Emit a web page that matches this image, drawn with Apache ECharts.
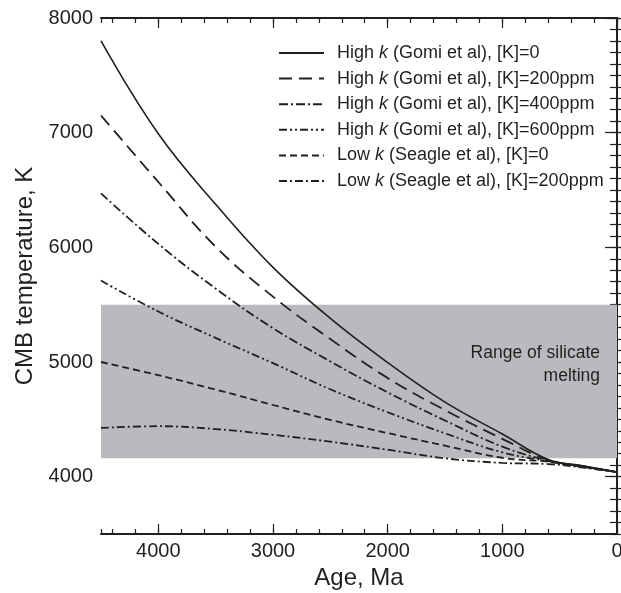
<!DOCTYPE html>
<html>
<head>
<meta charset="utf-8">
<script src="https://cdn.jsdelivr.net/npm/echarts@6/dist/echarts.min.js"></script>
<style>
html,body{margin:0;padding:0;background:#fff;}
#c{width:621px;height:593px;}
</style>
</head>
<body>
<div id="c"></div>
<script>
// ---- data ----
var ages = [4500, 4000, 3500, 3000, 2500, 2000, 1500, 1000, 600, 300, 0];
var highK0   = [7800, 6990, 6375, 5825, 5380, 4995, 4650, 4372, 4150, 4095, 4040];
var highK200 = [7150, 6570, 6005, 5570, 5200, 4860, 4580, 4330, 4145, 4092, 4040];
var highK400 = [6470, 6030, 5640, 5295, 5005, 4735, 4490, 4262, 4140, 4090, 4040];
var highK600 = [5710, 5440, 5210, 4990, 4762, 4562, 4378, 4212, 4135, 4088, 4040];
var lowK0    = [5000, 4885, 4760, 4625, 4495, 4380, 4270, 4165, 4130, 4085, 4040];
var lowK200  = [4425, 4440, 4415, 4365, 4305, 4235, 4160, 4120, 4110, 4080, 4040];
var seriesNames = [
  'High k (Gomi et al), [K]=0',
  'High k (Gomi et al), [K]=200ppm',
  'High k (Gomi et al), [K]=400ppm',
  'High k (Gomi et al), [K]=600ppm',
  'Low k (Seagle et al), [K]=0',
  'Low k (Seagle et al), [K]=200ppm'
];
var meltBand = [4160, 5500];
var meltLabel = 'Range of silicate\nmelting';
var xMajorTicks = [0, 1000, 2000, 3000, 4000];
var yMajorTicks = [4000, 5000, 6000, 7000, 8000];
var xName = 'Age, Ma';
var yName = 'CMB temperature, K';

// ---- chart ----
var INK = '#231f20';
var FONT = '"Liberation Sans", Arial, Helvetica, sans-serif';
function pairs(vals){ return ages.map(function(a,i){ return [a, vals[i]]; }); }
var allVals = [highK0, highK200, highK400, highK600, lowK0, lowK200];
var styles = [
  {type:'solid', width:1.6},
  {type:[13,7], width:1.8},
  {type:[9,3,2,3], width:1.8},
  {type:[8,3,2,3,2,3], width:1.8},
  {type:[7,4], width:1.8},
  {type:[8,3,2,3], width:1.8}
];
var series = allVals.map(function(v,i){
  return {
    name: seriesNames[i], type:'line', data: pairs(v), smooth:0.4,
    symbol:'none', showSymbol:false, z:5, color:INK,
    lineStyle:{color:INK, width:styles[i].width, type:styles[i].type}
  };
});
series.unshift({
  name:'band', type:'line', data:[], z:1, silent:true,
  markArea:{
    silent:true,
    itemStyle:{color:'#b9babd'},
    label:{show:true, position:'insideTopRight', distance:17, formatter:meltLabel,
      color:INK, fontSize:17.5, fontFamily:FONT, lineHeight:23, align:'right', padding:[20,0,0,0]},
    data:[[{yAxis:meltBand[0]},{yAxis:meltBand[1]}]]
  }
});

function richName(n){
  var m = n.match(/^(High|Low) k(.*)$/);
  return '{n|' + m[1] + ' }{i|k}{n|' + m[2] + '}';
}
function plain(v){ return String(v); }

var axisLineStyle = {color:INK, width:2};
var option = {
  animation:false,
  backgroundColor:'#fff',
  grid:{left:101, right:4, top:18, bottom:59, containLabel:false, outerBoundsMode:'none'},
  legend:{
    data: seriesNames, left:273, top:39, orient:'vertical',
    itemWidth:45, itemHeight:14, itemGap:7.6,
    itemStyle:{opacity:0},
    formatter: richName,
    textStyle:{color:INK, fontFamily:FONT, fontSize:18, padding:[0,0,0,8],
      rich:{ n:{color:INK, fontFamily:FONT, fontSize:18, lineHeight:20},
             i:{color:INK, fontFamily:FONT, fontSize:18, lineHeight:20, fontStyle:'italic'} }},
    selectedMode:false
  },
  xAxis:[
    {type:'value', min:0, max:4500, inverse:true, position:'bottom', interval:1000,
     axisLine:{show:true, lineStyle:axisLineStyle},
     axisTick:{show:true, inside:true, length:10, lineStyle:{color:INK, width:1.2}, customValues:xMajorTicks},
     axisLabel:{show:true, margin:7, color:INK, fontSize:20, fontFamily:FONT, customValues:xMajorTicks, formatter:plain},
     splitLine:{show:false},
     name:xName, nameLocation:'middle', nameGap:30,
     nameTextStyle:{color:INK, fontSize:24, fontFamily:FONT}},
    {type:'value', min:0, max:4500, inverse:true, position:'bottom', interval:200,
     axisLine:{show:false}, axisTick:{show:true, inside:true, length:5, lineStyle:{color:INK, width:1.2}},
     axisLabel:{show:false}, splitLine:{show:false}},
    {type:'value', min:0, max:4500, inverse:true, position:'top', interval:1000,
     axisLine:{show:true, lineStyle:axisLineStyle},
     axisTick:{show:true, inside:true, length:10, lineStyle:{color:INK, width:1.2}, customValues:xMajorTicks},
     axisLabel:{show:false}, splitLine:{show:false}},
    {type:'value', min:0, max:4500, inverse:true, position:'top', interval:200,
     axisLine:{show:false}, axisTick:{show:true, inside:true, length:5, lineStyle:{color:INK, width:1.2}},
     axisLabel:{show:false}, splitLine:{show:false}}
  ],
  yAxis:[
    {type:'value', min:3500, max:8000, position:'left',
     axisLine:{show:true, lineStyle:axisLineStyle},
     axisTick:{show:true, inside:true, length:12, lineStyle:{color:INK, width:1.2}, customValues:yMajorTicks},
     axisLabel:{show:true, margin:8, color:INK, fontSize:20, fontFamily:FONT, customValues:yMajorTicks, formatter:plain},
     splitLine:{show:false},
     name:yName, nameLocation:'middle', nameGap:58,
     nameTextStyle:{color:INK, fontSize:24, fontFamily:FONT}},
    {type:'value', min:3500, max:8000, position:'left', interval:100,
     axisLine:{show:false}, axisTick:{show:true, inside:true, length:7, lineStyle:{color:INK, width:1.2}},
     axisLabel:{show:false}, splitLine:{show:false}},
    {type:'value', min:3500, max:8000, position:'right',
     axisLine:{show:true, lineStyle:axisLineStyle},
     axisTick:{show:true, inside:true, length:12, lineStyle:{color:INK, width:1.2}, customValues:yMajorTicks},
     axisLabel:{show:false}, splitLine:{show:false}},
    {type:'value', min:3500, max:8000, position:'right', interval:100,
     axisLine:{show:false}, axisTick:{show:true, inside:true, length:7, lineStyle:{color:INK, width:1.2}},
     axisLabel:{show:false}, splitLine:{show:false}}
  ],
  series: series
};
var chart = echarts.init(document.getElementById('c'), null, {renderer:'canvas'});
chart.setOption(option);
</script>
</body>
</html>
